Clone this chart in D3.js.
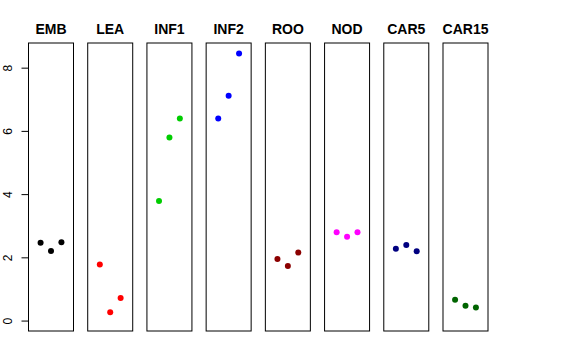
<!DOCTYPE html>
<html>
<head>
<meta charset="utf-8">
<script src="https://cdn.jsdelivr.net/npm/d3@7"></script>
<style>
  body { margin: 0; background: #fff; }
  svg { display: block; font-family: "Liberation Sans", Arial, sans-serif; }
</style>
</head>
<body>
<div id="chart"></div>
<script>
const categories = ['EMB', 'LEA', 'INF1', 'INF2', 'ROO', 'NOD', 'CAR5', 'CAR15'];
const colors = ['#000000', '#ff0000', '#00cd00', '#0000ff', '#8b0000', '#ff00ff', '#000080', '#006400'];
// three replicate values per tissue, plotted at x = 1, 2, 3
const values = [
  [2.46, 2.20, 2.48],
  [1.77, 0.26, 0.71],
  [3.78, 5.79, 6.39],
  [6.39, 7.11, 8.45],
  [1.95, 1.73, 2.15],
  [2.79, 2.65, 2.79],
  [2.27, 2.39, 2.19],
  [0.66, 0.47, 0.41]
];
const yTicks = [0, 2, 4, 6, 8];

const width = 576, height = 360;
const plotTop = 43, plotBottom = 331;

const svg = d3.select('#chart').append('svg')
  .attr('width', width)
  .attr('height', height);

const panel = d3.scaleBand()
  .domain(categories)
  .range([28.5, 488])
  .paddingInner(0.24)
  .paddingOuter(0);

const y = d3.scaleLinear()
  .domain([-0.33, 8.78])
  .range([plotBottom, plotTop]);

const x = d3.scaleLinear()
  .domain([-0.16, 4.16])
  .range([0, panel.bandwidth()]);

// y axis on the left (R style, rotated labels)
const yAxis = svg.append('g')
  .attr('transform', `translate(${panel(categories[0])},0)`)
  .call(d3.axisLeft(y).tickValues(yTicks).tickSize(7).tickPadding(0).tickFormat(d3.format('d')));
yAxis.select('.domain').remove();
yAxis.selectAll('.tick line').attr('stroke', '#000');
yAxis.selectAll('.tick text')
  .attr('x', null).attr('dy', null).attr('y', null)
  .attr('text-anchor', 'middle')
  .attr('font-size', 12)
  .attr('fill', '#000')
  .attr('transform', 'translate(-16.5,0) rotate(-90)');

categories.forEach((cat, i) => {
  const g = svg.append('g').attr('transform', `translate(${panel(cat)},0)`);

  g.append('rect')
    .attr('x', 0)
    .attr('y', plotTop)
    .attr('width', panel.bandwidth())
    .attr('height', plotBottom - plotTop)
    .attr('fill', 'none')
    .attr('stroke', '#000')
    .attr('stroke-width', 1);

  g.append('text')
    .attr('x', panel.bandwidth() / 2)
    .attr('y', 34)
    .attr('text-anchor', 'middle')
    .attr('font-size', 14)
    .attr('font-weight', 'bold')
    .text(cat);

  g.selectAll('circle')
    .data(values[i])
    .join('circle')
    .attr('cx', (d, j) => x(j + 1))
    .attr('cy', d => y(d))
    .attr('r', 3)
    .attr('fill', colors[i]);
});
</script>
</body>
</html>
